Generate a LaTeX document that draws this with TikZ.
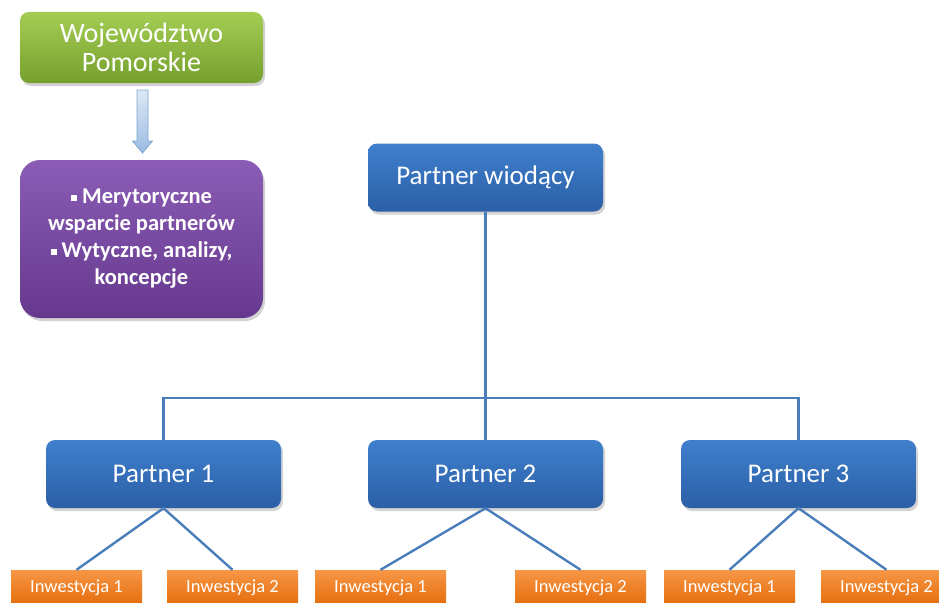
\documentclass[tikz,border=0pt]{standalone}
\usepackage{fontspec}
\setmainfont{Carlito}
\usetikzlibrary{shadows}
\definecolor{lineblue}{HTML}{4A7EBB}
\definecolor{bluetop}{HTML}{3F7FCC}
\definecolor{bluebot}{HTML}{2B5FA6}
\definecolor{greentop}{HTML}{A3CD52}
\definecolor{greenbot}{HTML}{76A02E}
\definecolor{purpletop}{HTML}{8A5CB5}
\definecolor{purplebot}{HTML}{66398E}
\definecolor{orangetop}{HTML}{F79646}
\definecolor{orangebot}{HTML}{E36C0A}
\definecolor{arrowtop}{HTML}{DCE8F6}
\definecolor{arrowbot}{HTML}{9BBBE3}
\begin{document}
\begin{tikzpicture}[x=1pt,y=-1pt,
  box/.style={rounded corners=9pt, inner sep=0pt, text=white, align=center,
    drop shadow={opacity=0.35, shadow xshift=2pt, shadow yshift=-3pt}},
  bluebox/.style={box, top color=bluetop, bottom color=bluebot,
    minimum width=235pt, minimum height=68pt, font=\fontsize{27}{31}\selectfont},
  invbox/.style={inner sep=0pt, text=white, top color=orangetop, bottom color=orangebot,
    minimum width=131pt, minimum height=36pt, font=\fontsize{18.5}{22}\selectfont},
  conn/.style={draw=lineblue, line width=2.4pt}]
\useasboundingbox (0,0) rectangle (939,602);
\clip (0,0) rectangle (939,602);
% top-left boxes
\node[box, top color=greentop, bottom color=greenbot, minimum width=243pt, minimum height=71pt,
  font=\fontsize{28}{32}\selectfont] (woj) at (141.5,47.5) {Województwo\\[-3pt]Pomorskie};
\node[box, rounded corners=20pt, top color=purpletop, bottom color=purplebot, minimum width=243pt,
  minimum height=158pt, font=\bfseries\fontsize{22.5}{27}\selectfont] (mer) at (141.5,239)
  {\rule[3pt]{6pt}{6pt} Merytoryczne\\wsparcie partnerów\\\rule[3pt]{6pt}{6pt} Wytyczne, analizy,\\koncepcje};
% block arrow
\draw[draw=lineblue!70, line width=0.8pt, top color=arrowtop, bottom color=arrowbot]
  (137,90) -- (148,90) -- (148,141) -- (152.5,141) -- (142.5,153) -- (132.5,141) -- (137,141) -- cycle;
% partners
\node[bluebox] (lead) at (485.5,177.5) {Partner wiodący};
\node[bluebox] (p1) at (163.5,474) {Partner 1};
\node[bluebox] (p2) at (485.5,474) {Partner 2};
\node[bluebox] (p3) at (798.5,474) {Partner 3};
\coordinate (bus) at (485.5,398);
\draw[conn] (lead.south) -- (bus);
\draw[conn] (p1.north) -- (p1.north |- bus) -- (p3.north |- bus) -- (p3.north);
\draw[conn] (bus) -- (p2.north);
% investments
\node[invbox] (i11) at (76.5,588) {\raisebox{3pt}{Inwestycja 1}};
\node[invbox] (i12) at (232.5,588) {\raisebox{3pt}{Inwestycja 2}};
\node[invbox] (i21) at (380.5,588) {\raisebox{3pt}{Inwestycja 1}};
\node[invbox] (i22) at (580.5,588) {\raisebox{3pt}{Inwestycja 2}};
\node[invbox] (i31) at (729.5,588) {\raisebox{3pt}{Inwestycja 1}};
\node[invbox] (i32) at (886.5,588) {\raisebox{3pt}{Inwestycja 2}};
\draw[conn] (i11.north) -- (p1.south) -- (i12.north);
\draw[conn] (i21.north) -- (p2.south) -- (i22.north);
\draw[conn] (i31.north) -- (p3.south) -- (i32.north);
\end{tikzpicture}
\end{document}
